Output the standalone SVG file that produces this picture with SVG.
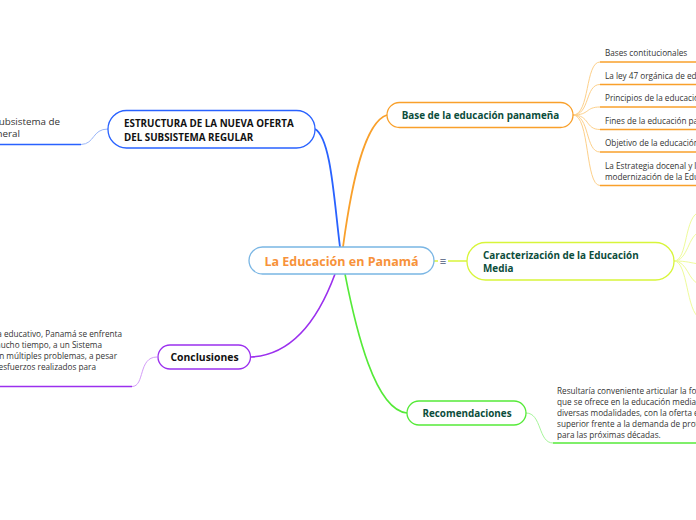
<svg xmlns="http://www.w3.org/2000/svg" width="696" height="520" viewBox="0 0 696 520">
<style>
text{font-family:"Open Sans","Noto Sans","Liberation Sans",sans-serif;}
.leaf{font-size:8.2px;fill:#333333;}
.big{font-size:9.8px;}
.t1{font-size:9.9px;font-weight:bold;fill:#0b4d3b;}
.tb{font-size:9.8px;font-weight:bold;fill:#111111;}
.tc{font-size:10.4px;}
.node{fill:#ffffff;stroke-width:1.3;}
.c{fill:none;}
</style>
<rect width="696" height="520" fill="#ffffff"/>
<g id="connectors">
  <path class="c" d="M340,247 C334,200 331,138 315,129" stroke="#2962ff" stroke-width="1.8"/>
  <path class="c" d="M343,247 C352,180 365,122 387,115" stroke="#f9a02b" stroke-width="1.8"/>
  <path class="c" d="M335,274 C318,320 292,355 251,357" stroke="#9b30ee" stroke-width="1.6"/>
  <path class="c" d="M345,274 C356,330 375,410 407,413" stroke="#55ea38" stroke-width="1.6"/>
  <path class="c" d="M434,261 L467,261" stroke="#d8f53a" stroke-width="1.4"/>
  <path class="c" d="M108,129 C92,129 95,144 81,144.5" stroke="#9ab6f8" stroke-width="1"/>
  <path class="c" d="M157,357 C138,357 145,386.5 132,386.5" stroke="#d39cf8" stroke-width="1"/>
  <path class="c" d="M526,413 C542,413 538,443 553,443" stroke="#a6f59a" stroke-width="1"/>
  <g stroke="#fdd08a" stroke-width="1" fill="none">
    <path d="M573,115 C590,115 585,62 600,62"/>
    <path d="M573,115 C590,115 585,84.5 600,84.5"/>
    <path d="M573,115 C590,115 585,107 600,107"/>
    <path d="M573,115 C590,115 585,129.5 600,129.5"/>
    <path d="M573,115 C590,115 585,152 600,152"/>
    <path d="M573,115 C590,115 585,185.5 600,185.5"/>
  </g>
  <g stroke="#eefb9a" stroke-width="1" fill="none">
    <path d="M674,261 C688,261 684,215 700,212"/>
    <path d="M674,261 C688,261 688,235 700,232"/>
    <path d="M674,261 C688,261 690,263 700,264"/>
    <path d="M674,261 C688,261 688,282 700,284"/>
    <path d="M674,261 C688,261 686,312 700,318"/>
  </g>
  <g stroke-width="1.5">
    <line x1="0" y1="144.5" x2="81" y2="144.5" stroke="#2962ff"/>
    <line x1="0" y1="386.5" x2="132" y2="386.5" stroke="#9b30ee"/>
    <line x1="553" y1="443" x2="696" y2="443" stroke="#55ea38"/>
  </g>
  <g stroke="#f9a02b" stroke-width="1.5">
    <line x1="600" y1="62" x2="696" y2="62"/>
    <line x1="600" y1="84.5" x2="696" y2="84.5"/>
    <line x1="600" y1="107" x2="696" y2="107"/>
    <line x1="600" y1="129.5" x2="696" y2="129.5"/>
    <line x1="600" y1="152" x2="696" y2="152"/>
    <line x1="600" y1="185.5" x2="696" y2="185.5"/>
  </g>
</g>
<g id="central">
  <rect class="node" x="249" y="247" width="185" height="27" rx="13.5" stroke="#7ab6e4" stroke-width="1.6"/>
  <text x="341.5" y="265.5" text-anchor="middle" font-size="12.5" font-weight="bold" fill="#f7923a">La Educación en Panamá</text>
  <rect x="438" y="255" width="10" height="12" fill="#ffffff"/>
  <text x="443" y="265" text-anchor="middle" font-size="11" fill="#4a5a7a">≡</text>
</g>
<g id="estructura">
  <rect class="node" x="108" y="110.5" width="207" height="37.5" rx="18.5" stroke="#2962ff"/>
  <text class="tb" x="124" y="127">ESTRUCTURA DE LA NUEVA OFERTA</text>
  <text class="tb" x="124" y="140.5">DEL SUBSISTEMA REGULAR</text>
</g>
<g id="leaf-subsistema">
  <text class="leaf big" x="60" y="125" text-anchor="end">Subsistema de</text>
  <text class="leaf big" x="20" y="136.5" text-anchor="end">General</text>
</g>
<g id="base">
  <rect class="node" x="387" y="102.5" width="186" height="25" rx="12.5" stroke="#f9a02b"/>
  <text class="t1" x="480.5" y="119" text-anchor="middle">Base de la educación panameña</text>
</g>
<g id="base-leaves">
  <text class="leaf" x="605" y="56">Bases contitucionales</text>
  <text class="leaf" x="605" y="78.5">La ley 47 orgánica de educación</text>
  <text class="leaf" x="605" y="101">Principios de la educación panameña</text>
  <text class="leaf" x="605" y="123.5">Fines de la educación panameña</text>
  <text class="leaf" x="605" y="146">Objetivo de la educación media</text>
  <text class="leaf" x="605" y="168.5">La Estrategia docenal y la</text>
  <text class="leaf" x="605" y="179.5">modernización de la Educación</text>
</g>
<g id="caracterizacion">
  <rect class="node" x="467" y="242.5" width="207" height="37.5" rx="18.5" stroke="#d8f53a"/>
  <text class="t1" x="483" y="258.5">Caracterización de la Educación</text>
  <text class="t1" x="483" y="272">Media</text>
</g>
<g id="conclusiones">
  <rect class="node" x="158" y="345" width="92.5" height="24" rx="12" stroke="#9b30ee"/>
  <text class="tb tc" x="204.5" y="360.5" text-anchor="middle">Conclusiones</text>
</g>
<g id="leaf-conclusiones">
  <text class="leaf" x="122" y="337" text-anchor="end">del sistema educativo, Panamá se enfrenta</text>
  <text class="leaf" x="102" y="348" text-anchor="end">desde hace mucho tiempo, a un Sistema</text>
  <text class="leaf" x="117" y="358.5" text-anchor="end">Educativo con múltiples problemas, a pesar</text>
  <text class="leaf" x="96" y="369.5" text-anchor="end">de los esfuerzos realizados para</text>
</g>
<g id="recomendaciones">
  <rect class="node" x="407" y="401" width="119" height="24" rx="12" stroke="#55ea38"/>
  <text class="t1" x="467" y="416.5" text-anchor="middle">Recomendaciones</text>
</g>
<g id="leaf-recomendaciones">
  <text class="leaf" x="557" y="393.5">Resultaría conveniente articular la formación</text>
  <text class="leaf" x="557" y="404.5">que se ofrece en la educación media, en sus</text>
  <text class="leaf" x="557" y="415.5">diversas modalidades, con la oferta educativa</text>
  <text class="leaf" x="557" y="426.5">superior frente a la demanda de profesionales</text>
  <text class="leaf" x="557" y="437.5">para las próximas décadas.</text>
</g>
</svg>
